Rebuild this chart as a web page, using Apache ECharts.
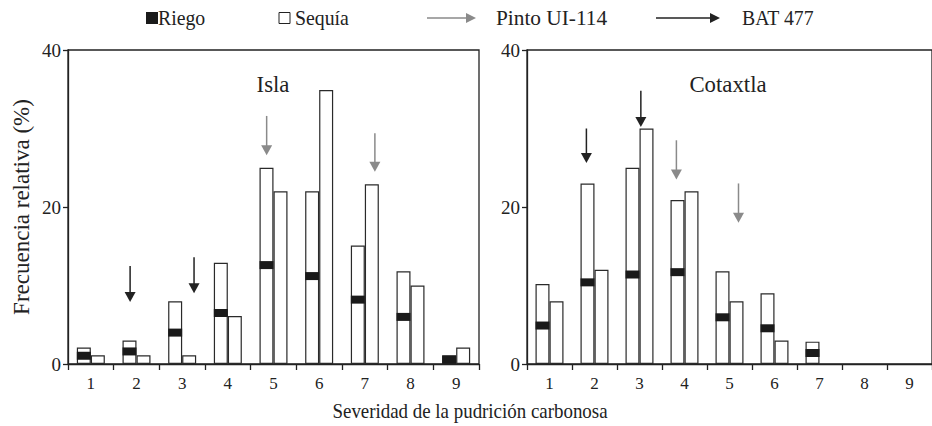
<!DOCTYPE html>
<html>
<head>
<meta charset="utf-8">
<script src="https://cdn.jsdelivr.net/npm/echarts@6/dist/echarts.min.js"></script>
<style>
html,body{margin:0;padding:0;background:#fff;}
#chart{width:932px;height:426px;}
</style>
</head>
<body>
<div id="chart"></div>
<script>
// ---- data ----
const categories = ['1','2','3','4','5','6','7','8','9'];
const yTicks = [0, 20, 40];

// Isla
const islaRiego      = [2.1, 3.0, 8.0, 12.9, 25.0, 22.0, 15.1, 11.8, 1.1];
const islaRiegoMark  = [1.05, 1.6, 4.0, 6.5, 12.6, 11.2, 8.2, 6.0, 0.55];
const islaSequia     = [1.1, 1.1, 1.1, 6.1, 22.0, 34.9, 22.9, 10.0, 2.1];

// Cotaxtla
const cotaRiego      = [10.2, 23.0, 25.0, 20.9, 11.8, 9.0, 2.85, null, null];
const cotaRiegoMark  = [4.9, 10.4, 11.4, 11.7, 5.95, 4.55, 1.4, null, null];
const cotaSequia     = [8.0, 12.0, 30.0, 22.0, 8.0, 3.0, null, null, null];

// arrows: position (category index units), tail value, tip value, cultivar
const islaArrowPos  = [0.86, 2.26, 3.85, 6.22];
const islaArrowTail = [12.5, 13.6, 31.6, 29.4];
const islaArrowTip  = [7.9, 9.0, 26.6, 24.5];
const islaArrowKind = ['BAT 477', 'BAT 477', 'Pinto UI-114', 'Pinto UI-114'];

const cotaArrowPos  = [0.82, 2.03, 2.82, 4.2];
const cotaArrowTail = [30.0, 34.8, 28.5, 23.0];
const cotaArrowTip  = [25.6, 30.2, 23.5, 18.0];
const cotaArrowKind = ['BAT 477', 'BAT 477', 'Pinto UI-114', 'Pinto UI-114'];

const panelNames = ['Isla', 'Cotaxtla'];
const legendNames = ['Riego', 'Sequía', 'Pinto UI-114', 'BAT 477'];
const xTitle = 'Severidad de la pudrición carbonosa';
const yTitle = 'Frecuencia relativa (%)';

// ---- styles ----
const FONT = 'Liberation Serif';
const INK = '#222';
const GRAY = '#8a8a8a';
const arrowColor = {'Pinto UI-114': GRAY, 'BAT 477': INK};
const BARW = 14;

const chart = echarts.init(document.getElementById('chart'), null, {renderer: 'svg'});

function catAxis(gridIndex) {
  return {
    type: 'category', gridIndex, data: categories,
    axisLine: {show: true, onZero: false, lineStyle: {color: INK, width: 1.3}},
    axisTick: {show: true, length: 6, lineStyle: {color: INK, width: 1.3}},
    axisLabel: {fontFamily: FONT, fontSize: 17, color: INK, margin: 11},
    splitLine: {show: false}
  };
}
function hiddenValueX(gridIndex) {
  return {type: 'value', gridIndex, min: -0.5, max: 8.5, show: false,
          axisLine: {show: false, onZero: false}, splitLine: {show: false}};
}
function yAxis(gridIndex, withName) {
  const a = {
    type: 'value', gridIndex, min: yTicks[0], max: yTicks[yTicks.length - 1], interval: 20,
    axisLine: {show: true, onZero: false, lineStyle: {color: INK, width: 1.3}},
    axisTick: {show: true, length: 5, lineStyle: {color: INK, width: 1.3}},
    axisLabel: {fontFamily: FONT, fontSize: 19, color: INK, margin: 7},
    splitLine: {show: false}
  };
  if (withName) {
    a.name = yTitle;
    a.nameLocation = 'middle';
    a.nameGap = 35;
    a.nameTextStyle = {fontFamily: FONT, fontSize: 23, color: INK};
  }
  return a;
}

function barSeries(name, data, xi, yi) {
  return {
    type: 'bar', name, data, xAxisIndex: xi, yAxisIndex: yi,
    barWidth: BARW, barGap: '0%',
    itemStyle: {color: '#fff', borderColor: '#2a2a2a', borderWidth: 1.2},
    silent: true, animation: false
  };
}

function markSeries(riego, mark, xi, yi) {
  const data = riego.map((v, i) => [i, v, mark[i]]).filter(d => d[1] != null && d[2] != null);
  return {
    type: 'custom', xAxisIndex: xi, yAxisIndex: yi, data, silent: true, animation: false, z: 5,
    renderItem: function (params, api) {
      const c = api.coord([api.value(0), api.value(2)]);
      const base = api.coord([api.value(0), 0]);
      const top = api.coord([api.value(0), api.value(1)]);
      const h = 8;
      let y0 = c[1] - h / 2, y1 = c[1] + h / 2;
      y0 = Math.max(y0, top[1]);
      y1 = Math.min(y1, base[1]);
      return {
        type: 'rect',
        shape: {x: c[0] - BARW, y: y0, width: BARW, height: y1 - y0},
        style: {fill: '#1a1a1a', stroke: null}
      };
    }
  };
}

function arrowSeries(pos, tail, tip, kind, xi, yi) {
  const data = pos.map((p, i) => [p, tail[i], tip[i], kind[i]]);
  return {
    type: 'custom', xAxisIndex: xi, yAxisIndex: yi, data, silent: true, animation: false, z: 6,
    renderItem: function (params, api) {
      const t = api.coord([api.value(0), api.value(1)]);
      const p = api.coord([api.value(0), api.value(2)]);
      const col = arrowColor[data[params.dataIndex][3]];
      const hh = 10, hw = 5.5;
      return {
        type: 'group',
        children: [
          {type: 'line', shape: {x1: t[0], y1: t[1], x2: p[0], y2: p[1] - hh + 1},
           style: {stroke: col, lineWidth: 1.5}},
          {type: 'polygon', shape: {points: [[p[0] - hw, p[1] - hh], [p[0] + hw, p[1] - hh], [p[0], p[1]]]},
           style: {fill: col}}
        ]
      };
    }
  };
}

// legend drawn with graphic
function legendArrow(x1, x2, y, col) {
  return {
    type: 'group', silent: true,
    children: [
      {type: 'line', shape: {x1, y1: y, x2: x2 - 9, y2: y}, style: {stroke: col, lineWidth: 1.5}},
      {type: 'polygon', shape: {points: [[x2 - 10, y - 5], [x2 - 10, y + 5], [x2, y]]}, style: {fill: col}}
    ]
  };
}
function txt(x, y, s, size, align, sx) {
  return {type: 'text', x, y, silent: true, scaleX: sx || 1,
          style: {text: s, fontFamily: FONT, fontSize: size, fill: INK,
                  textAlign: align || 'left', textVerticalAlign: 'middle'}};
}
const legendY = 18;
const legendGraphics = [
  {type: 'rect', shape: {x: 146, y: legendY - 6, width: 12, height: 12}, style: {fill: '#1a1a1a'}, silent: true},
  txt(158, legendY, legendNames[0], 22, 'left', 0.9),
  {type: 'rect', shape: {x: 279, y: legendY - 5.5, width: 11, height: 11}, style: {fill: '#fff', stroke: INK, lineWidth: 1}, silent: true},
  txt(295, legendY, legendNames[1], 22, 'left', 0.9),
  legendArrow(427, 476, legendY, GRAY),
  txt(496, legendY, legendNames[2], 22, 'left', 0.97),
  legendArrow(656, 720, legendY, INK),
  txt(742, legendY, legendNames[3], 22, 'left', 0.9),
  txt(273, 84, panelNames[0], 24, 'center', 0.95),
  txt(728, 84, panelNames[1], 24, 'center', 0.95),
  txt(470, 410, xTitle, 22, 'center', 0.86)
];

const option = {
  backgroundColor: '#fff',
  animation: false,
  grid: [
    {left: 68, top: 50, width: 411, height: 314, show: true, borderColor: INK, borderWidth: 1.3, backgroundColor: 'transparent'},
    {left: 527, top: 50, width: 410, height: 314, show: true, borderColor: INK, borderWidth: 1.3, backgroundColor: 'transparent'}
  ],
  xAxis: [catAxis(0), catAxis(1), hiddenValueX(0), hiddenValueX(1)],
  yAxis: [yAxis(0, true), yAxis(1, false)],
  series: [
    barSeries('Riego', islaRiego, 0, 0),
    barSeries('Sequía', islaSequia, 0, 0),
    markSeries(islaRiego, islaRiegoMark, 0, 0),
    barSeries('Riego', cotaRiego, 1, 1),
    barSeries('Sequía', cotaSequia, 1, 1),
    markSeries(cotaRiego, cotaRiegoMark, 1, 1),
    arrowSeries(islaArrowPos, islaArrowTail, islaArrowTip, islaArrowKind, 2, 0),
    arrowSeries(cotaArrowPos, cotaArrowTail, cotaArrowTip, cotaArrowKind, 3, 1)
  ],
  graphic: legendGraphics
};
chart.setOption(option);
</script>
</body>
</html>
